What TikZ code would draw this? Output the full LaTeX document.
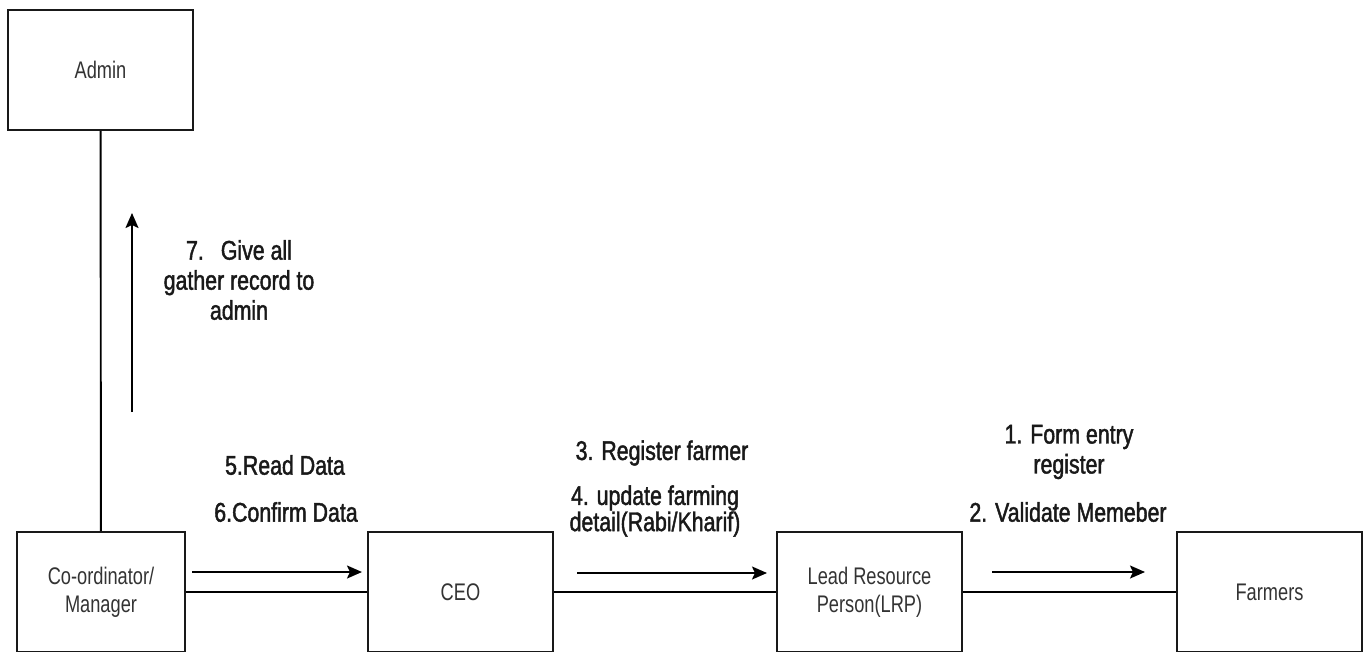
\documentclass[tikz,border=0pt]{standalone}
\usepackage{fontspec}
\setmainfont{Liberation Sans}
\newfontfamily\boxfont[FakeStretch=0.76]{Liberation Sans}
\newfontfamily\msgfont[FakeStretch=0.79,FakeBold=1.6]{Liberation Sans}
\usetikzlibrary{arrows.meta}

\begin{document}
\begin{tikzpicture}[->,>={Stealth[length=15pt,width=13pt,inset=3pt]},x=1pt,y=-1pt,line width=1.9pt]
\tikzstyle{actor}=[draw=black!90,text=black!80,minimum width=185pt,minimum height=120pt,inner sep=0pt,align=center,font=\boxfont\fontsize{24}{28}\selectfont]
\tikzstyle{msg}=[align=center,inner sep=0pt,text=black!90,font=\msgfont\fontsize{27}{30}\selectfont]
\useasboundingbox (0,0) rectangle (1365,651);
\node[actor] (A) at (100.5,70) {Admin};
\node[actor,minimum width=168pt] (C) at (101,592) {Co-ordinator/\\Manager};
\node[actor][right of=C,node distance=359.5pt](CEO){CEO};
\node[actor][right of=CEO,node distance=409pt](LRP){Lead Resource\\Person(LRP)};
\node[actor][right of=LRP,node distance=400pt](F){Farmers};
\path[-] (A) edge (C)
         (C) edge (CEO)
       (CEO) edge (LRP)
       (LRP) edge (F);
% message arrows
\coordinate (up0) at (132,412);
\coordinate (up1) at (132,213);
\coordinate (c0) at (192,572);
\coordinate (c1) at (362,572);
\coordinate (e0) at (577,573);
\coordinate (e1) at (767,573);
\coordinate (l0) at (992,572);
\coordinate (l1) at (1145,572);
\draw (up0) -- (up1);
\draw (c0) -- (c1);
\draw (e0) -- (e1);
\draw (l0) -- (l1);
\node[msg] (m7) at (239,280) {7.\hspace{17pt}Give all\\gather record to\\admin};
\node[msg] (m5) at (285,465) {5.Read Data};
\node[msg] (m6) at (286,512) {6.Confirm Data};
\node[msg] (m3) at (662,453) {3. Register farmer};
\node[msg,font=\msgfont\fontsize{27}{25}\selectfont] (m4) at (655,511) {4. update farming\\detail(Rabi/Kharif)};
\node[msg] (m1) at (1069,452) {1. Form entry\\register};
\node[msg] (m2) at (1068,512) {2. Validate Memeber};
\end{tikzpicture}
\end{document}
